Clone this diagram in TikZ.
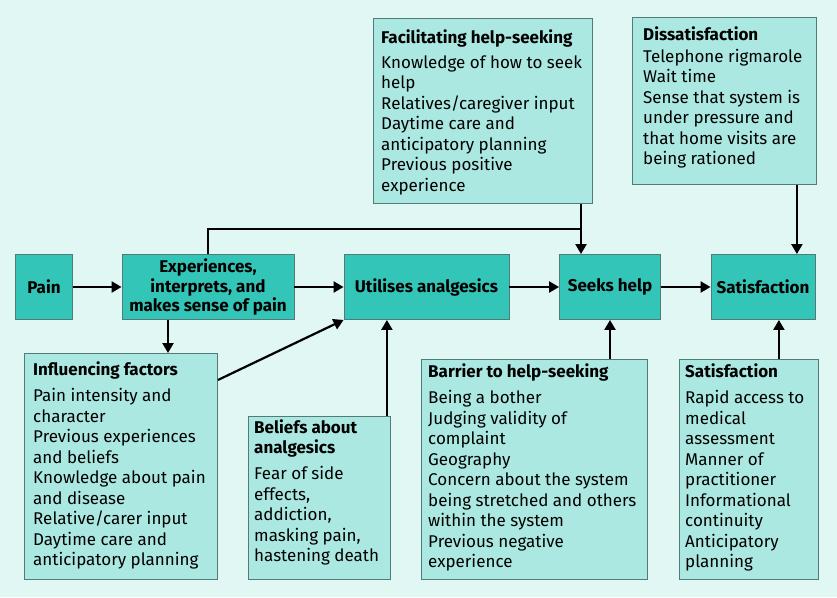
\documentclass[tikz,border=0pt]{standalone}
\usepackage{fontspec}
\setmainfont{Fira Sans}
\usetikzlibrary{arrows.meta}
\definecolor{bgcol}{RGB}{224,247,244}
\definecolor{maincol}{RGB}{51,197,184}
\definecolor{sidecol}{RGB}{172,232,226}
\definecolor{edgecol}{RGB}{82,122,119}
\newcommand{\bodyfont}{\fontsize{17}{20.5}\selectfont}
\newcommand{\sidebox}[8]
{   \node[sidebox, minimum width=#4, minimum height=#5] (#1) at (#2,#3) {};
    \node[sidetext] (#1-txt) at ([shift={(#6,#7-14.35)}]#1.north west) {\strut#8};
}

\begin{document}
\begin{tikzpicture}[x=1pt,y=-1pt,
  mainbox/.style={draw=edgecol, line width=0.9pt, fill=maincol, minimum height=65,
    inner sep=0pt, align=center, font=\bodyfont\bfseries},
  sidebox/.style={draw=edgecol, line width=0.9pt, fill=sidecol, anchor=north west, inner sep=0pt},
  sidetext/.style={anchor=north west, align=left, inner sep=0pt, font=\bodyfont},
  conn/.style={line width=2.2pt},
  arr/.style={conn, -{Triangle[length=10pt,width=11pt]}}]

 \fill[bgcol] (0,0) rectangle (837,597);

 \node[mainbox, minimum width=57] (pain) at (44,287) {Pain};
 \node[mainbox, minimum width=172] (exper) at (208,287) {Experiences,\\[-1pt] interprets, and\\[-1pt] makes sense of pain};
 \node[mainbox, minimum width=165] (util) at (426.5,287) {Utilises analgesics};
 \node[mainbox, minimum width=101] (seek) at (610,287) {Seeks help};
 \node[mainbox, minimum width=104] (satis) at (763,287) {Satisfaction};

 \sidebox{facil}{373}{18}{219}{185}{8}{25}{\textbf{Facilitating help-seeking}\\[4.5pt]
   Knowledge of how to seek\\ help\\ Relatives/caregiver input\\ Daytime care and\\
   anticipatory planning\\ Previous positive\\ experience}
 \sidebox{dissat}{632}{17}{184}{167}{11}{23}{\textbf{Dissatisfaction}\\[1.5pt]
   Telephone rigmarole\\ Wait time\\ Sense that system is\\ under pressure and\\
   that home visits are\\ being rationed}
 \sidebox{infl}{24}{353}{193}{226}{9}{22}{\textbf{Influencing factors}\\[6pt]
   Pain intensity and\\ character\\ Previous experiences\\ and beliefs\\
   Knowledge about pain\\ and disease\\ Relative/carer input\\ Daytime care and\\
   anticipatory planning}
 \sidebox{belief}{248}{416}{142}{163}{6}{17}{\textbf{Beliefs about}\\[-0.5pt] \textbf{analgesics}\\[6pt]
   Fear of side\\ effects,\\ addiction,\\ masking pain,\\ hastening death}
 \sidebox{barrier}{421}{359}{226}{220}{7}{18}{\textbf{Barrier to help-seeking}\\[6pt]
   Being a bother\\ Judging validity of\\ complaint\\ Geography\\
   Concern about the system\\ being stretched and others\\ within the system\\
   Previous negative\\ experience}
 \sidebox{satlist}{679}{359}{139}{220}{6}{18}{\textbf{Satisfaction}\\[6pt]
   Rapid access to\\ medical\\ assessment\\ Manner of\\ practitioner\\
   Informational\\ continuity\\ Anticipatory\\ planning}

 \coordinate (join) at (581,229);

 \draw[arr] (pain) -- (exper);
 \draw[arr] (exper) -- (util);
 \draw[arr] (util) -- (seek);
 \draw[arr] (seek) -- (satis);
 \draw[arr] ([xshift=-40pt]exper.south) -- ([xshift=-40pt]exper.south |- infl.north);
 \draw[arr] ([yshift=-27pt]infl.north east) -- (util.south west);
 \draw[arr] ([xshift=-4pt]belief.north east) -- ([xshift=-4pt]belief.north east |- util.south);
 \draw[arr] (barrier.north -| seek) -- (seek.south);
 \draw[arr] ([xshift=-40pt]satlist.north east) -- ([xshift=-40pt]satlist.north east |- satis.south);
 \draw[arr] ([xshift=-20pt]dissat.south east) -- ([xshift=-20pt]dissat.south east |- satis.north);
 \draw[conn] (exper.north) |- (join);
 \draw[arr] (facil.south -| join) -- (join |- seek.north);

\end{tikzpicture}
\end{document}
